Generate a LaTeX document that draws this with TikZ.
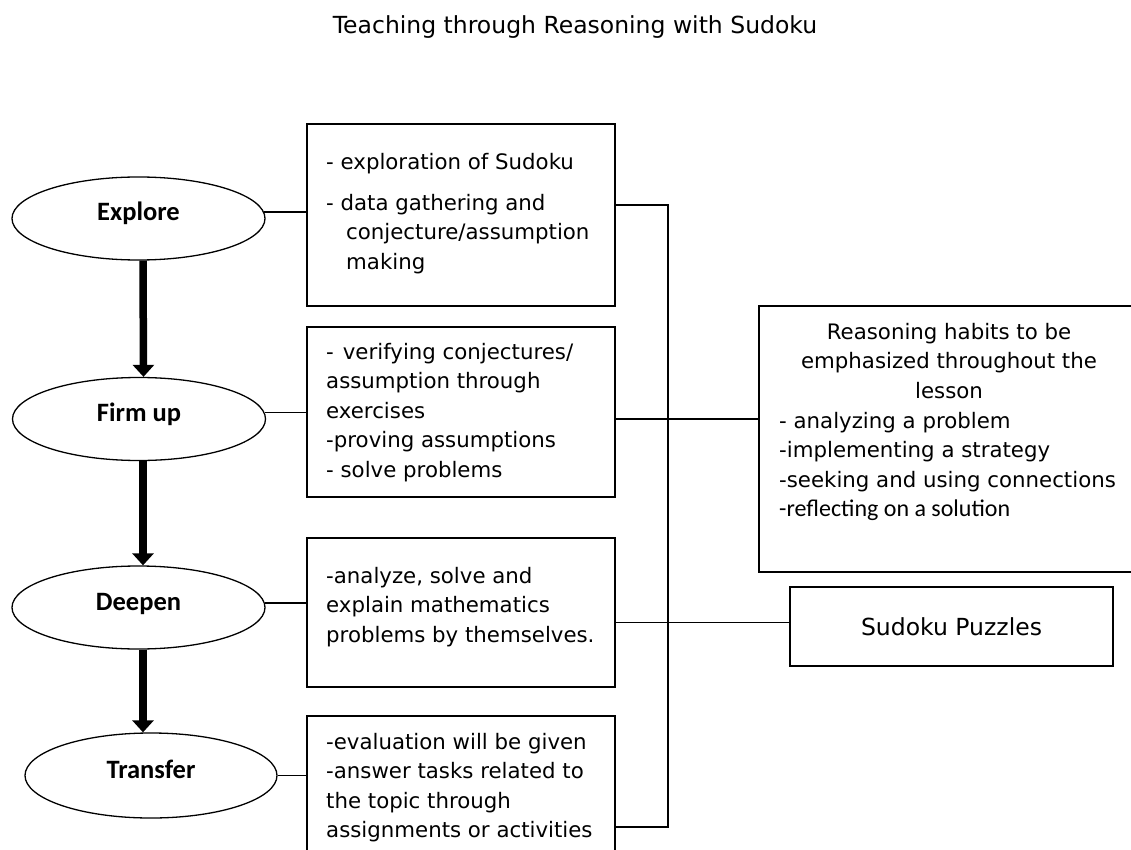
\documentclass[tikz,border=0pt]{standalone}
\usepackage{fontspec}
\setmainfont{DejaVu Sans}
\newfontfamily\carlito{Carlito}
\usetikzlibrary{arrows.meta,shapes.geometric}
\begin{document}
\begin{tikzpicture}[x=1pt,y=-1pt,
  stage/.style={draw, ellipse, line width=1.3pt, minimum width=253pt, minimum height=83pt, inner sep=0pt,
    text height=17pt, text depth=12pt,
    font=\carlito\bfseries\fontsize{26.5}{30}\selectfont},
  box/.style={draw, line width=1.5pt, inner sep=0pt},
  txt/.style={anchor=north west, align=left, inner sep=0pt, font=\fontsize{21.3}{29.5}\selectfont},
  link/.style={line width=1.6pt},
  flow/.style={line width=7.5pt, -{Triangle[width=21pt,length=12pt]}}
]
\useasboundingbox (0,0) rectangle (1131,850);

\node[anchor=base, font=\fontsize{23.5}{28}\selectfont] (title) at (575,33.5) {Teaching through Reasoning with Sudoku};

% stages
\node[stage] (e1) at (138.5,218.5) {Explore};
\node[stage] (e2) at (139,419) {Firm up};
\node[stage] (e3) at (138.5,607.5) {Deepen};
\node[stage, minimum width=252pt, minimum height=85pt] (e4) at (151,775.5) {Transfer};

% boxes
\node[box, minimum width=308pt, minimum height=182pt] (b1) at (461,215) {};
\node[box, minimum width=308pt, minimum height=170pt] (b2) at (461,412) {};
\node[box, minimum width=308pt, minimum height=149pt] (b3) at (461,612.5) {};
\node[box, minimum width=308pt, minimum height=154pt] (b4) at (461,793) {};
\node[box, minimum width=376pt, minimum height=266pt] (r) at (947,439) {};
\node[box, minimum width=323pt, minimum height=79pt, font=\fontsize{23.5}{28}\selectfont] (s) at (951.5,626.5) {Sudoku Puzzles};

% box texts
\node[txt] (t1) at (326,153) {- exploration of Sudoku\\[11.5pt]
- data gathering and\\
\hspace*{20pt}conjecture/assumption\\
\hspace*{20pt}making};
\node[txt] (t2) at (326,343) {-\hspace{9pt}verifying conjectures/\\
assumption through\\
exercises\\
-proving assumptions\\
- solve problems};
\node[txt] (t3) at (326,567) {-analyze, solve and\\
explain mathematics\\
problems by themselves.};
\node[txt] (t4) at (326,733) {-evaluation will be given\\
-answer tasks related to\\
the topic through\\
assignments or activities};
\node[txt, anchor=north, align=center] (rh) at (949,323) {Reasoning habits to be\\
emphasized throughout the\\
lesson};
\node[txt] (rl) at (779,412) {- analyzing a problem\\
-implementing a strategy\\
-seeking and using connections\\
{\carlito\fontsize{24}{29.5}\selectfont -reflecting on a solution}};

% flow arrows
\draw[flow] ([xshift=4.5pt]e1.south) -- ([xshift=4.5pt]e2.north);
\draw[flow] ([xshift=4pt]e2.south) -- ([xshift=4pt]e2.south |- e3.north);
\draw[flow] ([xshift=4.5pt]e3.south) -- ([xshift=4.5pt]e3.south |- e4.north);

% stage to box links
\draw[link] (e1.3) -- (e1.3 -| b1.west);
\draw[link] (e2.3) -- (e2.3 -| b2.west);
\draw[link] (e3.2) -- (e3.2 -| b3.west);
\draw[link] (e4.east) -- (e4.east -| b4.west);

% bus on the right
\coordinate (j1) at (668,205);
\coordinate (j4) at (668,827);
\draw[link] (j1 -| b1.east) -- (j1) -- (j4) -- (j4 -| b4.east);
\draw[link] ([yshift=-7pt]b2.east) -- ([yshift=-7pt]b2.east -| r.west);
\draw[link] ([yshift=-10pt]b3.east) -- ([yshift=-10pt]b3.east -| s.west);
\end{tikzpicture}
\end{document}
